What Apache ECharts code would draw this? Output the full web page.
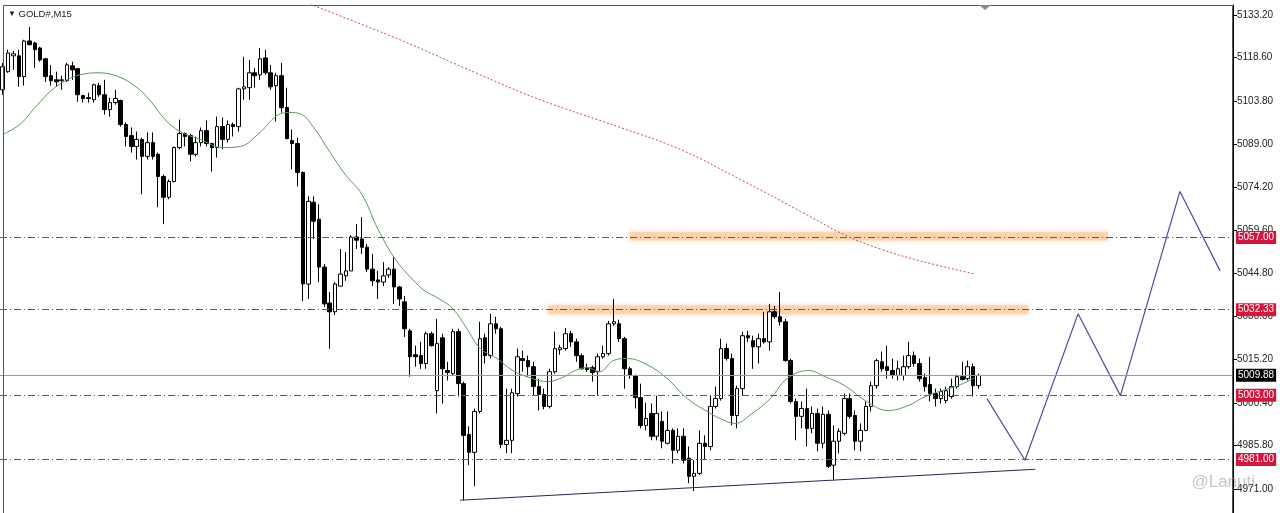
<!DOCTYPE html>
<html>
<head>
<meta charset="utf-8">
<script src="https://cdn.jsdelivr.net/npm/echarts@6.0.0/dist/echarts.min.js"></script>
<style>
html,body{margin:0;padding:0;background:#fff;}
#c{width:1280px;height:513px;}
</style>
</head>
<body>
<div id="c"></div>
<script>
// ---- DATA ----
const symbolTitle = 'GOLD#,M15';
const slotCount = 230; // category slots (candles + empty space on the right)

// [open, close, low, high]
const ohlc = [
[5107.6,5115.5,5105.9,5116.8],[5113.8,5120.2,5113.4,5121.3],[5119.2,5119.9,5114.4,5120.9],[5119.2,5112.1,5108.6,5121.3],
[5112.1,5124.3,5109.0,5124.7],[5124.3,5123.0,5122.9,5129.1],[5123.6,5121.3,5115.1,5124.0],[5121.9,5117.8,5117.2,5122.3],
[5118.2,5112.1,5110.3,5118.5],[5112.4,5110.7,5109.0,5116.1],[5111.0,5110.3,5108.6,5113.8],[5110.7,5111.0,5107.6,5112.4],
[5110.7,5116.1,5110.3,5116.8],[5115.8,5114.4,5111.0,5117.2],[5114.8,5105.9,5103.5,5115.1],[5105.6,5104.6,5103.2,5105.9],
[5104.9,5104.6,5103.2,5106.6],[5104.2,5109.3,5103.2,5109.7],[5109.0,5105.9,5105.2,5110.0],[5105.9,5100.8,5099.1,5111.0],
[5100.8,5103.2,5098.4,5104.9],[5103.2,5104.6,5102.5,5107.6],[5103.9,5095.7,5095.0,5104.2],[5095.7,5091.6,5088.2,5096.4],
[5091.9,5088.2,5086.1,5094.7],[5088.2,5090.6,5083.7,5093.3],[5090.6,5084.8,5071.8,5091.2],[5084.8,5089.5,5083.7,5093.0],
[5089.5,5084.8,5083.7,5093.0],[5085.5,5077.9,5067.4,5086.1],[5077.9,5070.8,5061.6,5078.6],[5070.8,5076.2,5070.1,5076.9],
[5076.2,5087.8,5075.9,5088.2],[5087.8,5092.6,5087.2,5097.4],[5092.6,5091.6,5088.2,5093.0],[5091.9,5085.5,5083.1,5092.6],
[5085.5,5089.5,5084.8,5091.6],[5089.5,5093.6,5088.2,5094.7],[5093.6,5089.2,5088.2,5097.1],[5089.2,5087.8,5079.6,5089.5],
[5087.8,5095.0,5084.4,5098.4],[5095.0,5090.6,5087.2,5098.1],[5090.6,5095.7,5089.5,5097.1],[5095.7,5095.0,5091.6,5096.4],
[5095.0,5107.9,5093.3,5108.3],[5107.9,5108.6,5104.2,5118.9],[5108.3,5113.4,5104.2,5117.8],[5113.4,5112.4,5108.3,5115.1],
[5112.7,5118.2,5111.0,5121.9],[5118.5,5113.4,5112.7,5121.3],[5113.4,5108.6,5107.6,5116.1],[5109.0,5112.4,5096.7,5113.4],
[5112.4,5101.5,5099.8,5116.8],[5101.5,5090.9,5090.6,5108.3],[5090.2,5089.2,5080.3,5094.0],[5089.2,5079.3,5074.5,5091.2],
[5079.3,5041.1,5035.3,5079.6],[5041.1,5069.4,5036.0,5071.1],[5069.1,5062.6,5056.5,5071.1],[5063.3,5046.9,5041.8,5068.4],
[5046.9,5034.3,5033.3,5048.0],[5034.6,5031.6,5019.0,5038.4],[5031.6,5041.1,5030.5,5041.8],[5040.4,5044.5,5040.4,5053.1],
[5043.9,5045.6,5042.2,5052.0],[5045.6,5057.2,5045.6,5057.8],[5057.2,5056.1,5053.1,5061.6],[5056.5,5053.7,5051.4,5064.0],
[5053.7,5046.2,5045.2,5054.8],[5046.2,5042.2,5040.4,5051.4],[5042.5,5041.8,5036.0,5045.6],[5041.8,5043.9,5040.4,5048.6],
[5044.2,5046.2,5043.2,5046.9],[5046.2,5040.1,5034.3,5050.3],[5040.1,5036.0,5033.6,5040.4],[5035.0,5025.8,5023.0,5037.0],
[5025.1,5016.2,5009.4,5025.8],[5016.9,5016.2,5012.8,5020.0],[5016.6,5013.9,5012.1,5021.3],[5013.9,5024.1,5012.1,5024.8],
[5024.1,5020.0,5019.7,5024.8],[5004.6,5020.7,4996.8,5029.2],[5022.7,5012.1,5000.2,5024.1],[5011.5,5010.8,5008.1,5014.5],
[5010.4,5024.8,5009.8,5025.8],[5024.8,5007.0,5002.6,5025.8],[5007.0,4989.3,4967.1,5007.7],[4989.6,4983.5,4979.1,4992.4],
[4983.5,4997.5,4971.9,4998.5],[4997.5,5022.4,4996.8,5028.2],[5022.7,5016.6,5013.9,5024.1],[5016.6,5027.5,5015.6,5030.9],
[5027.5,5025.8,5024.1,5029.9],[5025.8,4986.2,4984.9,5026.5],[4986.2,4987.6,4983.2,5005.3],[4987.6,5003.9,4983.2,5005.3],
[5003.6,5016.2,5002.6,5019.0],[5015.6,5014.9,5011.1,5018.3],[5014.9,5012.8,5009.4,5016.6],[5012.8,5006.0,5002.9,5014.5],
[5006.0,5003.3,4997.8,5008.7],[5003.3,4999.2,4998.2,5005.3],[4999.2,5011.1,4998.5,5012.1],[5011.1,5019.0,5010.4,5024.8],
[5018.6,5019.3,5016.9,5020.3],[5019.0,5024.1,5018.3,5026.1],[5024.1,5021.3,5019.6,5025.1],[5021.3,5016.6,5014.5,5022.4],
[5016.6,5012.1,5011.8,5017.3],[5012.5,5011.8,5011.1,5013.9],[5012.5,5010.8,5007.7,5013.2],[5011.1,5016.2,5002.9,5017.3],
[5016.2,5017.3,5015.6,5020.0],[5017.3,5027.5,5016.6,5028.5],[5027.5,5028.2,5026.8,5036.0],[5027.5,5022.4,5021.3,5028.9],
[5022.4,5012.1,5005.3,5023.0],[5012.1,5009.8,5008.7,5012.8],[5009.8,5002.2,4998.5,5010.1],[5002.2,4992.7,4991.7,5007.0],
[4992.7,4995.1,4991.0,5000.5],[4996.8,4989.0,4987.6,5000.2],[4989.0,4996.8,4987.6,5002.9],[4994.1,4987.3,4984.9,4997.5],
[4986.6,4991.0,4986.2,4997.5],[4991.0,4984.2,4979.7,4991.7],[4984.2,4989.0,4983.2,4991.7],[4989.0,4980.8,4979.7,4991.7],
[4981.5,4975.3,4972.9,4985.5],[4975.3,4976.3,4970.2,4980.8],[4976.3,4986.6,4975.7,4991.0],[4986.6,4985.5,4980.8,4989.3],
[4985.5,4999.2,4984.2,5002.9],[4999.2,5001.9,4998.5,5006.0],[5001.9,5019.0,5001.2,5022.4],[5019.0,5015.6,5014.9,5020.7],
[5015.6,4996.1,4992.7,5017.3],[4996.1,5005.3,4991.7,5006.3],[5005.3,5023.4,5002.9,5024.8],[5023.4,5022.7,5021.3,5025.1],
[5021.7,5019.6,5012.1,5023.4],[5019.6,5022.4,5013.9,5024.1],[5022.4,5021.3,5020.7,5031.6],[5021.3,5031.6,5018.3,5034.3],
[5031.6,5029.9,5029.2,5033.6],[5029.9,5028.2,5026.8,5038.4],[5028.2,5014.9,5014.5,5029.2],[5014.9,5000.9,5000.2,5015.6],
[5000.9,4995.8,4987.6,5001.9],[4995.8,4998.5,4991.7,5000.9],[4998.5,4991.7,4985.5,5005.3],[4991.7,4996.8,4990.0,4999.2],
[4996.8,4986.6,4983.8,4998.5],[4986.6,4996.5,4984.9,4999.2],[4996.5,4978.7,4978.1,4997.8],[4979.1,4987.3,4973.9,4992.7],
[4987.3,4990.7,4983.2,4991.7],[4990.0,5001.9,4989.3,5003.6],[5001.9,4995.8,4995.1,5003.6],[4996.1,4987.3,4984.2,4997.8],
[4987.3,4991.0,4983.8,4993.4],[4991.0,4999.2,4990.7,5000.9],[4999.2,5006.3,4997.5,5007.7],[5006.3,5014.9,5005.3,5015.6],
[5014.5,5012.1,5011.1,5018.0],[5012.8,5011.5,5008.7,5020.0],[5011.5,5009.8,5008.7,5015.6],[5009.8,5012.1,5008.1,5014.9],
[5009.8,5012.8,5008.1,5016.6],[5012.8,5016.6,5012.1,5021.3],[5016.6,5013.9,5012.8,5018.0],[5013.9,5008.7,5007.7,5015.6],
[5009.1,5006.0,5004.3,5010.4],[5006.7,5003.6,5000.9,5016.2],[5003.6,5001.9,4999.2,5005.3],[5001.9,5004.3,5000.2,5005.3],
[5001.2,5004.6,5000.2,5006.0],[5002.6,5006.0,5001.9,5008.7],[5006.0,5009.4,5005.3,5010.1],[5009.4,5008.4,5008.1,5014.5],
[5008.7,5012.8,5008.1,5014.9],[5012.8,5006.3,5002.6,5013.9],[5006.3,5009.8,5005.3,5010.4]
];

// fast moving average (green), [bar index, price]
const maFast = [
[0,5092.3],[3.2,5095.7],[5.7,5100.8],[8.8,5106.9],[12.0,5111.0],[14.4,5112.7],[17.6,5113.4],[20.6,5112.7],
[23.8,5110.0],[26.9,5105.2],[30.3,5097.4],[33.1,5093.3],[36.8,5090.6],[41.1,5087.8],[44.3,5088.2],[48.0,5093.0],
[51.2,5098.8],[53.6,5099.8],[55.5,5099.4],[57.9,5095.0],[61.1,5086.1],[63.9,5078.6],[67.0,5071.8],[70.0,5059.9],
[73.2,5049.7],[76.4,5042.8],[78.8,5038.7],[81.2,5036.3],[84.0,5032.6],[86.6,5025.8],[89.1,5019.0],[92.2,5015.6],
[95.2,5011.5],[98.9,5008.7],[101.6,5007.7],[104.4,5009.1],[106.8,5011.5],[109.0,5012.5],[111.4,5011.1],[113.9,5014.9],
[116.5,5015.6],[120.2,5013.5],[124.0,5008.7],[127.7,5001.9],[131.4,4997.5],[133.8,4995.1],[136.6,4993.4],[139.8,4996.8],
[143.2,5001.9],[146.3,5008.7],[150.3,5011.5],[153.4,5009.4],[157.1,5006.3],[160.9,5001.2],[165.2,4997.8],[168.9,4999.5],
[172.1,5002.6],[175.2,5004.6],[178.2,5006.3],[181.4,5009.1]
];

// slow moving average (red dotted), [bar index, price]
const maSlow = [
[57.3,5136.9],[74.1,5124.7],[89.1,5112.7],[100.2,5104.2],[115.2,5094.7],[126.4,5087.2],
[137.6,5076.9],[148.8,5066.0],[157.2,5057.8],[163.7,5053.1],[171.2,5049.0],[181.4,5044.5]
];

// support trendline, [bar index, price]
const trendLine = [[85.3,4967.1],[192.6,4977.7]];

// projected path (blue), [bar index, price]
const projection = [[183.6,5001.9],[190.7,4980.8],[200.6,5030.9],[208.5,5002.9],[219.6,5072.8],[227.1,5045.6]];

// horizontal levels
const levelPrices = [5057.00, 5032.33, 5003.00, 4981.00];
const bidPrice = 5009.88;

// highlighted zones: [fromBar, toBar, topPrice, bottomPrice]
const zones = [[117.0,206.2,5059.0,5056.0],[101.7,191.3,5033.8,5030.8]];

// price axis tick labels
const priceTicks = [5133.20,5118.60,5103.80,5089.00,5074.20,5059.60,5044.80,5030.00,5015.20,5000.40,4985.80,4971.00];

// ---- CHART ----
const categories = Array.from({length: slotCount}, (_, i) => String(i));
const chart = echarts.init(document.getElementById('c'), null, {renderer: 'canvas'});

const levelColor = '#c0302c';
const levelLines = levelPrices.map(v => ({
  yAxis: v,
  label: {backgroundColor: '#d4163c', color: '#fff'}
}));

const markLabel = {show: true, position: 'end', distance: 3, formatter: p => Number(p.value).toFixed(2),
  fontSize: 10, fontFamily: 'Liberation Sans', padding: [2, 2, 1, 2], color: '#fff'};

const option = {
  animation: false,
  backgroundColor: '#ffffff',
  textStyle: {fontFamily: 'Liberation Sans'},
  title: {
    text: '{t|▼} ' + symbolTitle,
    left: 3, top: 4,
    textStyle: {fontSize: 9.5, fontWeight: 'normal', color: '#222', fontFamily: 'Liberation Sans',
      rich: {t: {fontSize: 8, color: '#222'}}}
  },
  grid: {left: 0, top: 5, width: 1233, height: 510, show: false},
  xAxis: [
    {type: 'category', data: categories, show: false, boundaryGap: true},
    {type: 'value', min: -0.5, max: slotCount - 0.5, show: false}
  ],
  yAxis: {
    type: 'value', position: 'right', min: 4962.73, max: 5136.61,
    splitLine: {show: false},
    axisLine: {show: true, onZero: false, lineStyle: {color: '#000', width: 1}},
    axisTick: {show: true, length: 4, customValues: priceTicks, lineStyle: {color: '#000'}},
    axisLabel: {customValues: priceTicks, formatter: v => v.toFixed(2), color: '#222',
      fontSize: 10, margin: 4, fontFamily: 'Liberation Sans'}
  },
  series: [
    {
      type: 'candlestick', xAxisIndex: 0, data: ohlc, barWidth: 4,
      itemStyle: {color: '#ffffff', color0: '#000000', borderColor: '#000000', borderColor0: '#000000', borderWidth: 1}
    },
    {
      type: 'line', xAxisIndex: 1, data: maFast, smooth: 0.4, symbol: 'none',
      lineStyle: {color: '#5c9a5c', width: 1}, z: 3
    },
    {
      type: 'line', xAxisIndex: 1, data: maSlow, smooth: 0.4, symbol: 'none',
      lineStyle: {color: '#c84646', width: 1, type: [2, 2]}, z: 3
    },
    {
      type: 'line', xAxisIndex: 1, data: trendLine, symbol: 'none',
      lineStyle: {color: '#22285e', width: 1}, z: 3
    },
    {
      type: 'line', xAxisIndex: 1, data: projection, symbol: 'none', clip: false,
      lineStyle: {color: '#4a4aa2', width: 1.2}, z: 3
    },
    {
      // support / resistance levels and zones
      type: 'line', xAxisIndex: 1, data: [], clip: false, color: levelColor,
      lineStyle: {color: levelColor}, z: 2,
      markArea: {
        silent: true,
        itemStyle: {color: 'rgba(252,208,168,0.8)', shadowBlur: 4, shadowColor: 'rgba(252,200,150,0.8)'},
        data: zones.map(z => [{xAxis: z[0], yAxis: z[2]}, {xAxis: z[1], yAxis: z[3]}])
      },
      markLine: {
        silent: true, symbol: ['none', 'none'],
        lineStyle: {color: levelColor, type: [7, 3, 1, 3], width: 1},
        label: markLabel,
        data: levelLines
      }
    },
    {
      // bid line
      type: 'line', xAxisIndex: 1, data: [], clip: false, color: '#9a9a9a',
      lineStyle: {color: '#9a9a9a'}, z: 2,
      markLine: {
        silent: true, symbol: ['none', 'none'],
        lineStyle: {color: '#9a9a9a', type: 'solid', width: 1},
        label: Object.assign({}, markLabel, {backgroundColor: '#000'}),
        data: [{yAxis: bidPrice}]
      }
    }
  ],
  graphic: [
    {type: 'rect', z: 100, silent: true, shape: {x: 3.5, y: 5.5, width: 1229, height: 520},
      style: {fill: null, stroke: '#555', lineWidth: 1}},
    {type: 'polygon', z: 100, silent: true, shape: {points: [[979, 5], [991, 5], [985, 10]]},
      style: {fill: '#7f8c99'}},
    {type: 'text', z: 100, silent: true, right: 25, bottom: 22,
      style: {text: '@Lanuti', fill: 'rgba(150,150,150,0.55)', font: '17px "Liberation Sans"'}}
  ]
};
chart.setOption(option);
</script>
</body>
</html>
